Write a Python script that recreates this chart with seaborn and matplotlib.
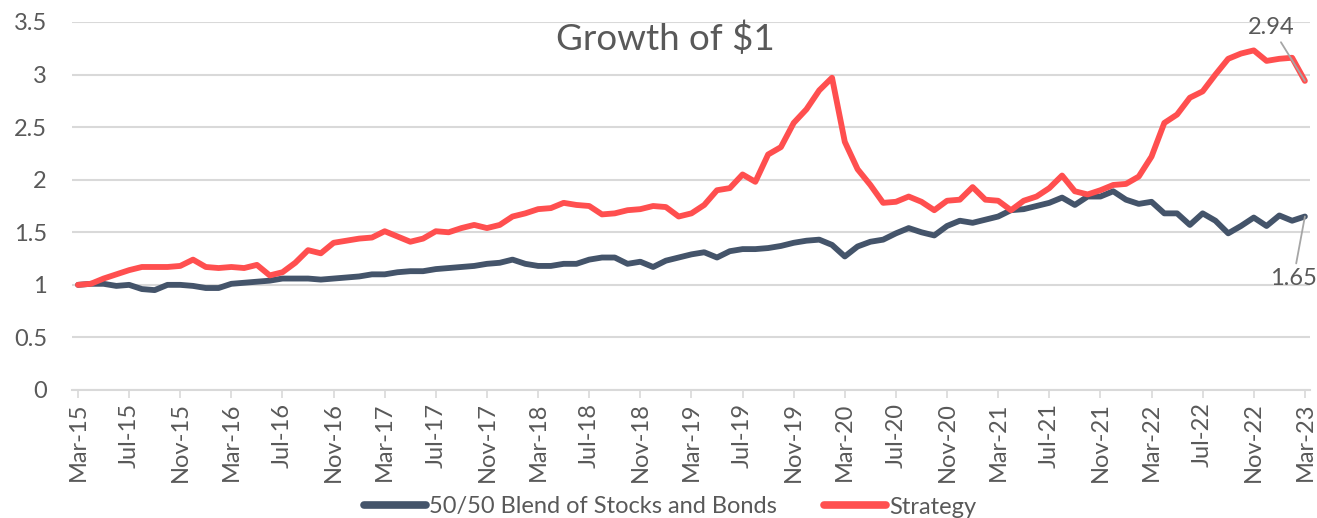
import numpy as np
import pandas as pd
import matplotlib
matplotlib.use("Agg")
import matplotlib.pyplot as plt
import seaborn as sns

# ---- data ----
months = pd.date_range("2015-03-01", "2023-03-01", freq="MS").strftime("%b-%y").tolist()

blend = [1.00, 1.01, 1.01, 0.99, 1.00, 0.96, 0.95, 1.00, 1.00, 0.99,
         0.97, 0.97, 1.01, 1.02, 1.03, 1.04, 1.06, 1.06, 1.06, 1.05,
         1.06, 1.07, 1.08, 1.10, 1.10, 1.12, 1.13, 1.13, 1.15, 1.16,
         1.17, 1.18, 1.20, 1.21, 1.24, 1.20, 1.18, 1.18, 1.20, 1.20,
         1.24, 1.26, 1.26, 1.20, 1.22, 1.17, 1.23, 1.26, 1.29, 1.31,
         1.26, 1.32, 1.34, 1.34, 1.35, 1.37, 1.40, 1.42, 1.43, 1.38,
         1.27, 1.365, 1.41, 1.43, 1.49, 1.54, 1.50, 1.47, 1.56, 1.61,
         1.59, 1.62, 1.65, 1.71, 1.72, 1.75, 1.78, 1.83, 1.76, 1.84,
         1.84, 1.89, 1.81, 1.77, 1.79, 1.68, 1.68, 1.57, 1.68, 1.61,
         1.49, 1.56, 1.64, 1.56, 1.66, 1.61, 1.65]

strategy = [1.00, 1.01, 1.06, 1.10, 1.14, 1.17, 1.17, 1.17, 1.18, 1.24,
            1.17, 1.16, 1.17, 1.16, 1.19, 1.09, 1.12, 1.21, 1.33, 1.30,
            1.40, 1.42, 1.44, 1.45, 1.51, 1.46, 1.41, 1.44, 1.51, 1.50,
            1.54, 1.57, 1.54, 1.57, 1.65, 1.68, 1.72, 1.73, 1.78, 1.76,
            1.75, 1.67, 1.68, 1.71, 1.72, 1.75, 1.74, 1.65, 1.68, 1.76,
            1.90, 1.92, 2.05, 1.98, 2.24, 2.31, 2.54, 2.67, 2.85, 2.97,
            2.36, 2.10, 1.95, 1.78, 1.79, 1.84, 1.79, 1.71, 1.80, 1.81,
            1.93, 1.81, 1.80, 1.71, 1.80, 1.84, 1.92, 2.04, 1.89, 1.86,
            1.90, 1.95, 1.96, 2.03, 2.22, 2.54, 2.62, 2.78, 2.84, 3.00,
            3.15, 3.20, 3.23, 3.13, 3.15, 3.16, 2.94]

series_names = ["50/50 Blend of Stocks and Bonds", "Strategy"]
series_colors = ["#44546A", "#FF4F4F"]
y_ticks = [0, 0.5, 1, 1.5, 2, 2.5, 3, 3.5]
y_tick_labels = ["0", "0.5", "1", "1.5", "2", "2.5", "3", "3.5"]
title = "Growth of $1"
end_labels = ["1.65", "2.94"]

# ---- frame ----
n = len(months)
df = pd.DataFrame({
    "idx": list(range(n)) * 2,
    "value": blend + strategy,
    "series": [series_names[0]] * n + [series_names[1]] * n,
})

sns.set_theme(style="white")
plt.rcParams["font.family"] = ["Lato", "DejaVu Sans"]
txt = "#595959"
grid = "#D9D9D9"

fig = plt.figure(figsize=(13.17, 5.18), dpi=100)
ax = fig.add_axes([72 / 1317, 128 / 518, (1310 - 72) / 1317, (390 - 22) / 518])

sns.lineplot(data=df, x="idx", y="value", hue="series", hue_order=series_names,
             palette=series_colors, linewidth=4.2, ax=ax, legend=True,
             solid_capstyle="round", solid_joinstyle="round")

ax.set_xlim(-0.47, 96.4)
ax.set_ylim(0, 3.5)
ax.set_yticks(y_ticks)
ax.set_yticklabels(y_tick_labels, fontsize=17, color=txt)
tick_pos = list(range(0, n, 4))
ax.set_xticks(tick_pos)
ax.set_xticklabels([months[i] for i in tick_pos], rotation=90, fontsize=17, color=txt)
ax.set_xlabel("")
ax.set_ylabel("")
ax.yaxis.grid(True, color=grid, linewidth=1.5)
ax.set_axisbelow(True)
for s in ["top", "right", "left"]:
    ax.spines[s].set_visible(False)
ax.spines["bottom"].set_color(grid)
ax.spines["bottom"].set_linewidth(1.5)
ax.tick_params(axis="x", bottom=True, length=6, width=1.2, color=grid, pad=3)
ax.tick_params(axis="y", left=False, pad=12)

ax.text(0.479, 0.955, title, transform=ax.transAxes, ha="center", va="center",
        fontsize=26.5, color=txt)

# end labels with leader lines
ax.annotate(end_labels[1], xy=(n - 1, strategy[-1]), xytext=(93.4, 3.45),
            ha="center", va="center", fontsize=17, color=txt,
            arrowprops=dict(arrowstyle="-", color="#A6A6A6", lw=1.3, shrinkA=1, shrinkB=0))
ax.annotate(end_labels[0], xy=(n - 1, blend[-1]), xytext=(95.1, 1.06),
            ha="center", va="center", fontsize=17, color=txt,
            arrowprops=dict(arrowstyle="-", color="#A6A6A6", lw=1.3, shrinkA=1, shrinkB=0))

# legend
leg_handles, leg_labels = ax.get_legend_handles_labels()
ax.get_legend().remove()
for h in leg_handles:
    h.set_linewidth(5.5)
    h.set_solid_capstyle("round")
fig.legend(leg_handles, leg_labels, loc="center", bbox_to_anchor=(0.509, 11 / 518),
           ncol=2, frameon=False, fontsize=17, labelcolor=txt,
           handlelength=2.6, handletextpad=0.15, columnspacing=2.0)

fig.savefig("out.png", dpi=100)
